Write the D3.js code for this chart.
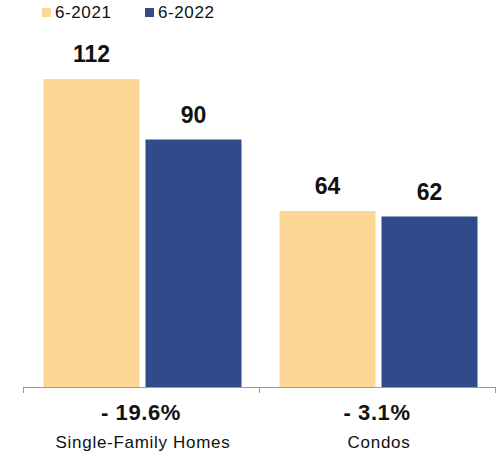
<!DOCTYPE html>
<html>
<head>
<meta charset="utf-8">
<script src="https://cdn.jsdelivr.net/npm/d3@7"></script>
<style>
  body { margin: 0; background: #fff; }
  text { font-family: "Liberation Sans", Arial, Helvetica, sans-serif; fill: #111; }
</style>
</head>
<body>
<script>
// chart data
let categories = ['Single-Family Homes', 'Condos']
let series = ['6-2021', '6-2022']
let values2021 = [112, 64]
let values2022 = [90, 62]
let changes = ['- 19.6%', '- 3.1%']

let colors = ['#FDD795', '#304B89']

let width = 503,
    height = 453

let margin = { top: 57, bottom: 66, left: 23, right: 8 }

let svg = d3.select('body')
            .append('svg')
            .attr('width', width)
            .attr('height', height)

let data = categories.map((c, i) => ({
  cat: c,
  change: changes[i],
  vals: [values2021[i], values2022[i]]
}))

let baseY = height - margin.bottom

let yScale = d3.scaleLinear()
              .domain([0, 120])
              .range([baseY, margin.top])

let x0 = d3.scaleBand()
            .domain(categories)
            .range([margin.left, width - margin.right])

let x1 = d3.scaleBand()
            .domain(series)
            .range([20.5, x0.bandwidth() - 17.5])
            .paddingInner(0.0588)

// bars
let groups = svg.selectAll('g.cat')
                .data(data)
                .enter()
                .append('g')
                .attr('class', 'cat')
                .attr('transform', d => `translate(${x0(d.cat)},0)`)

groups.selectAll('rect')
      .data(d => d.vals.map((v, i) => ({ s: series[i], v: v, i: i })))
      .enter()
      .append('rect')
      .attr('x', d => x1(d.s))
      .attr('y', d => yScale(d.v))
      .attr('width', x1.bandwidth())
      .attr('height', d => baseY - yScale(d.v))
      .attr('fill', d => colors[d.i])

groups.selectAll('text.val')
      .data(d => d.vals.map((v, i) => ({ s: series[i], v: v })))
      .enter()
      .append('text')
      .attr('class', 'val')
      .attr('x', d => x1(d.s) + x1.bandwidth() / 2)
      .attr('y', d => yScale(d.v) - 17)
      .attr('text-anchor', 'middle')
      .style('font-size', '23px')
      .style('font-weight', 'bold')
      .text(d => d.v)

// axis line with ticks at category boundaries
svg.append('line')
   .attr('x1', margin.left)
   .attr('x2', width - margin.right)
   .attr('y1', baseY + 0.5)
   .attr('y2', baseY + 0.5)
   .attr('stroke', '#9a9a9a')
   .attr('stroke-width', 1)

let bounds = categories.map(c => x0(c)).concat([x0.range()[1]])
svg.selectAll('line.tick')
   .data(bounds)
   .enter()
   .append('line')
   .attr('class', 'tick')
   .attr('x1', d => Math.round(d) + 0.5)
   .attr('x2', d => Math.round(d) + 0.5)
   .attr('y1', baseY)
   .attr('y2', baseY + 6)
   .attr('stroke', '#9a9a9a')

// change labels and category names
groups.append('text')
      .attr('x', x0.bandwidth() / 2)
      .attr('y', baseY + 33)
      .attr('text-anchor', 'middle')
      .style('font-size', '22px')
      .style('font-weight', 'bold')
      .style('letter-spacing', '0.6px')
      .text(d => d.change)

groups.append('text')
      .attr('x', x0.bandwidth() / 2 + 2)
      .attr('y', baseY + 61)
      .attr('text-anchor', 'middle')
      .style('font-size', '17px')
      .style('letter-spacing', '0.7px')
      .text(d => d.cat)

// legend
let legendX = [42, 145]
let legend = svg.selectAll('g.legend')
                .data(series)
                .enter()
                .append('g')
                .attr('class', 'legend')
                .attr('transform', (d, i) => `translate(${legendX[i]},0)`)

legend.append('rect')
      .attr('x', 0)
      .attr('y', 8)
      .attr('width', 9)
      .attr('height', 9)
      .attr('fill', (d, i) => colors[i])

legend.append('text')
      .attr('x', 13)
      .attr('y', 18)
      .style('font-size', '17px')
      .style('letter-spacing', '0.6px')
      .text(d => d)
</script>
</body>
</html>
